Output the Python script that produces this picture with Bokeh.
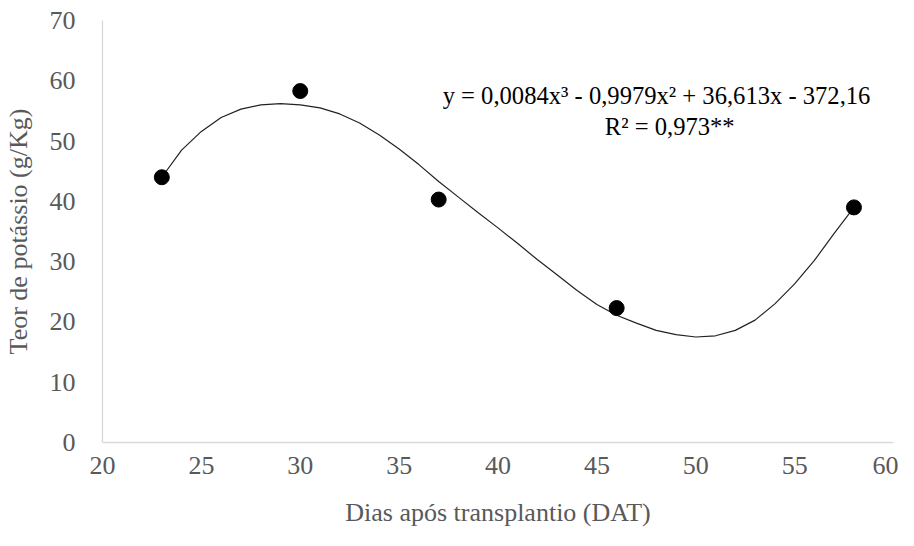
from bokeh.plotting import figure
from bokeh.models import FixedTicker, Label, Range1d
from bokeh.embed import file_html
from bokeh.resources import INLINE

# Observed data points
dias = [23, 30, 37, 46, 58]
teor_k = [44.0, 58.3, 40.3, 22.3, 39.0]

# Fitted cubic trend line
curve_x = [23, 24, 25, 26, 27, 28, 29, 30, 31, 32, 33, 34, 35, 36, 37, 38, 39, 40,
           41, 42, 43, 44, 45, 46, 47, 48, 49, 50, 51, 52, 53, 54, 55, 56, 57, 58]
curve_y = [44.0, 48.5, 51.6, 53.9, 55.3, 56.0, 56.2, 56.0, 55.5, 54.5, 53.0, 51.0,
           48.7, 46.1, 43.3, 40.7, 38.1, 35.6, 33.0, 30.3, 27.8, 25.2, 22.9, 21.1,
           19.8, 18.6, 17.9, 17.5, 17.7, 18.6, 20.3, 23.0, 26.3, 30.2, 34.7, 39.0]

x_ticks = [20, 25, 30, 35, 40, 45, 50, 55, 60]
y_ticks = [0, 10, 20, 30, 40, 50, 60, 70]

eq_text = "y = 0,0084x\u00b3 - 0,9979x\u00b2 + 36,613x - 372,16"
r2_text = "R\u00b2 = 0,973**"

FONT = "Liberation Serif"
GREY = "#595959"

p = figure(width=898, height=530, output_backend="svg", toolbar_location=None,
           x_range=Range1d(20, 60), y_range=Range1d(0, 70),
           min_border_left=99, min_border_right=5, min_border_top=20,
           min_border_bottom=88)
p.outline_line_color = None
p.grid.visible = False

p.line(curve_x, curve_y, line_color="#222222", line_width=1.2)
p.scatter(dias, teor_k, size=15, fill_color="black", line_color="black")

for ax in (p.xaxis[0], p.yaxis[0]):
    ax.axis_line_color = "#d9d9d9"
    ax.axis_line_width = 1.3
    ax.major_tick_line_color = None
    ax.minor_tick_line_color = None
    ax.major_label_text_font = FONT
    ax.major_label_text_font_size = "26px"
    ax.major_label_text_color = GREY
    ax.axis_label_text_font = FONT
    ax.axis_label_text_font_size = "26px"
    ax.axis_label_text_color = GREY
    ax.axis_label_text_font_style = "normal"

p.xaxis.ticker = FixedTicker(ticks=x_ticks)
p.yaxis.ticker = FixedTicker(ticks=y_ticks)
p.xaxis.axis_label = "Dias após transplantio (DAT)"
p.yaxis.axis_label = "Teor de potássio (g/Kg)"
p.xaxis.major_label_standoff = 8
p.yaxis.major_label_standoff = 21
p.xaxis.axis_label_standoff = 21
p.yaxis.axis_label_standoff = 14

p.add_layout(Label(x=37.2, y=57.5, text=eq_text, text_font=FONT,
                   text_font_size="24.6px", text_color="black",
                   text_baseline="middle", text_align="left"))
p.add_layout(Label(x=45.4, y=52.5, text=r2_text, text_font=FONT,
                   text_font_size="24.6px", text_color="black",
                   text_baseline="middle", text_align="left"))

open("out.html", "w").write(file_html(p, INLINE))
